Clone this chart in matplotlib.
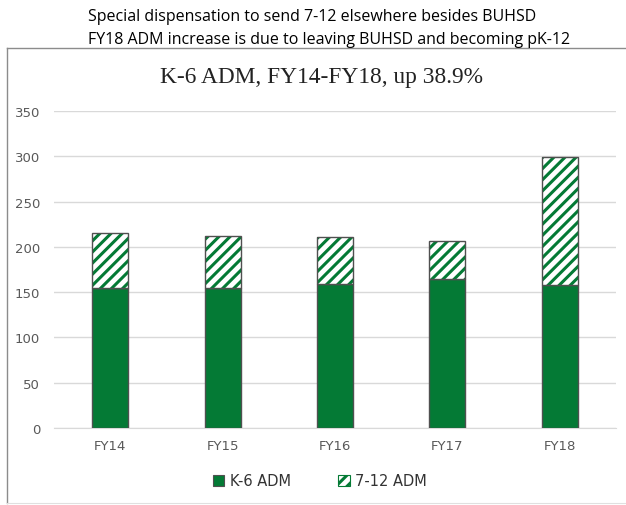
import matplotlib.pyplot as plt
from matplotlib.lines import Line2D
from matplotlib.patches import Patch
import numpy as np

years = ['FY14', 'FY15', 'FY16', 'FY17', 'FY18']
k6_adm = [155, 155, 159, 164, 158]
adm_7_12 = [60, 57, 52, 42, 141]
yticks = [0, 50, 100, 150, 200, 250, 300, 350]

green = '#047A35'
edge = '#505050'
tick_col = '#595959'

plt.rcParams['hatch.linewidth'] = 2.2

fig = plt.figure(figsize=(6.26, 5.06), dpi=100)
ax = fig.add_axes([54/626, 1-429/506, 562/626, 317/506])

x = np.arange(len(years))
w = 0.32
ax.bar(x, k6_adm, w, color=green, edgecolor=edge, linewidth=1.0, zorder=3)
# hatched top part: hatch in green first, gray outline on top
ax.bar(x, adm_7_12, w, bottom=k6_adm, color='white', edgecolor=green,
       hatch='///', linewidth=0, zorder=3)
ax.bar(x, adm_7_12, w, bottom=k6_adm, fill=False, edgecolor=edge,
       linewidth=1.0, zorder=4)

ax.set_xlim(-0.5, len(years) - 0.5)
ax.set_ylim(0, 350)
ax.set_yticks(yticks)
ax.set_xticks(x)
ax.set_xticklabels(years)
ax.yaxis.grid(True, color='#D9D9D9', linewidth=1.0, zorder=0)
ax.set_axisbelow(True)
for s in ['top', 'right', 'left']:
    ax.spines[s].set_visible(False)
ax.spines['bottom'].set_color('#D9D9D9')
ax.tick_params(axis='both', length=0, colors=tick_col, labelsize=9.5, pad=8)
ax.tick_params(axis='y', pad=10)

fig.text(321/626, 1-78/506, 'K-6 ADM, FY14-FY18, up 38.9%', family='Liberation Serif',
         fontsize=16.8, color='#222222', ha='center', va='center')

fig.text(88/626, 1-17/506, 'Special dispensation to send 7-12 elsewhere besides BUHSD',
         ha='left', va='center', fontsize=11.5, family='Open Sans', color='black')
fig.text(88/626, 1-40/506, 'FY18 ADM increase is due to leaving BUHSD and becoming pK-12',
         ha='left', va='center', fontsize=11.5, family='Open Sans', color='black')

# chart box border
fig.add_artist(Line2D([7/626, 1.0], [1-49/506, 1-49/506], color='#8C8C8C', linewidth=1.0))
fig.add_artist(Line2D([7/626, 7/626], [1-49/506, 1-504/506], color='#8C8C8C', linewidth=1.0))
fig.add_artist(Line2D([7/626, 1.0], [1-504/506, 1-504/506], color='#E0E0E0', linewidth=0.8))

handles = [Patch(facecolor=green, edgecolor=edge, linewidth=0.8, label='K-6 ADM'),
           Patch(facecolor='white', edgecolor=green, hatch='///', linewidth=0.8, label='7-12 ADM')]
fig.legend(handles=handles, loc='center', bbox_to_anchor=(320/626, 1-482/506),
           ncol=2, frameon=False, fontsize=10.5, handlelength=0.8, handleheight=0.8,
           columnspacing=3.2, handletextpad=0.4, labelcolor='#333333')

fig.savefig('out.png', dpi=100)
